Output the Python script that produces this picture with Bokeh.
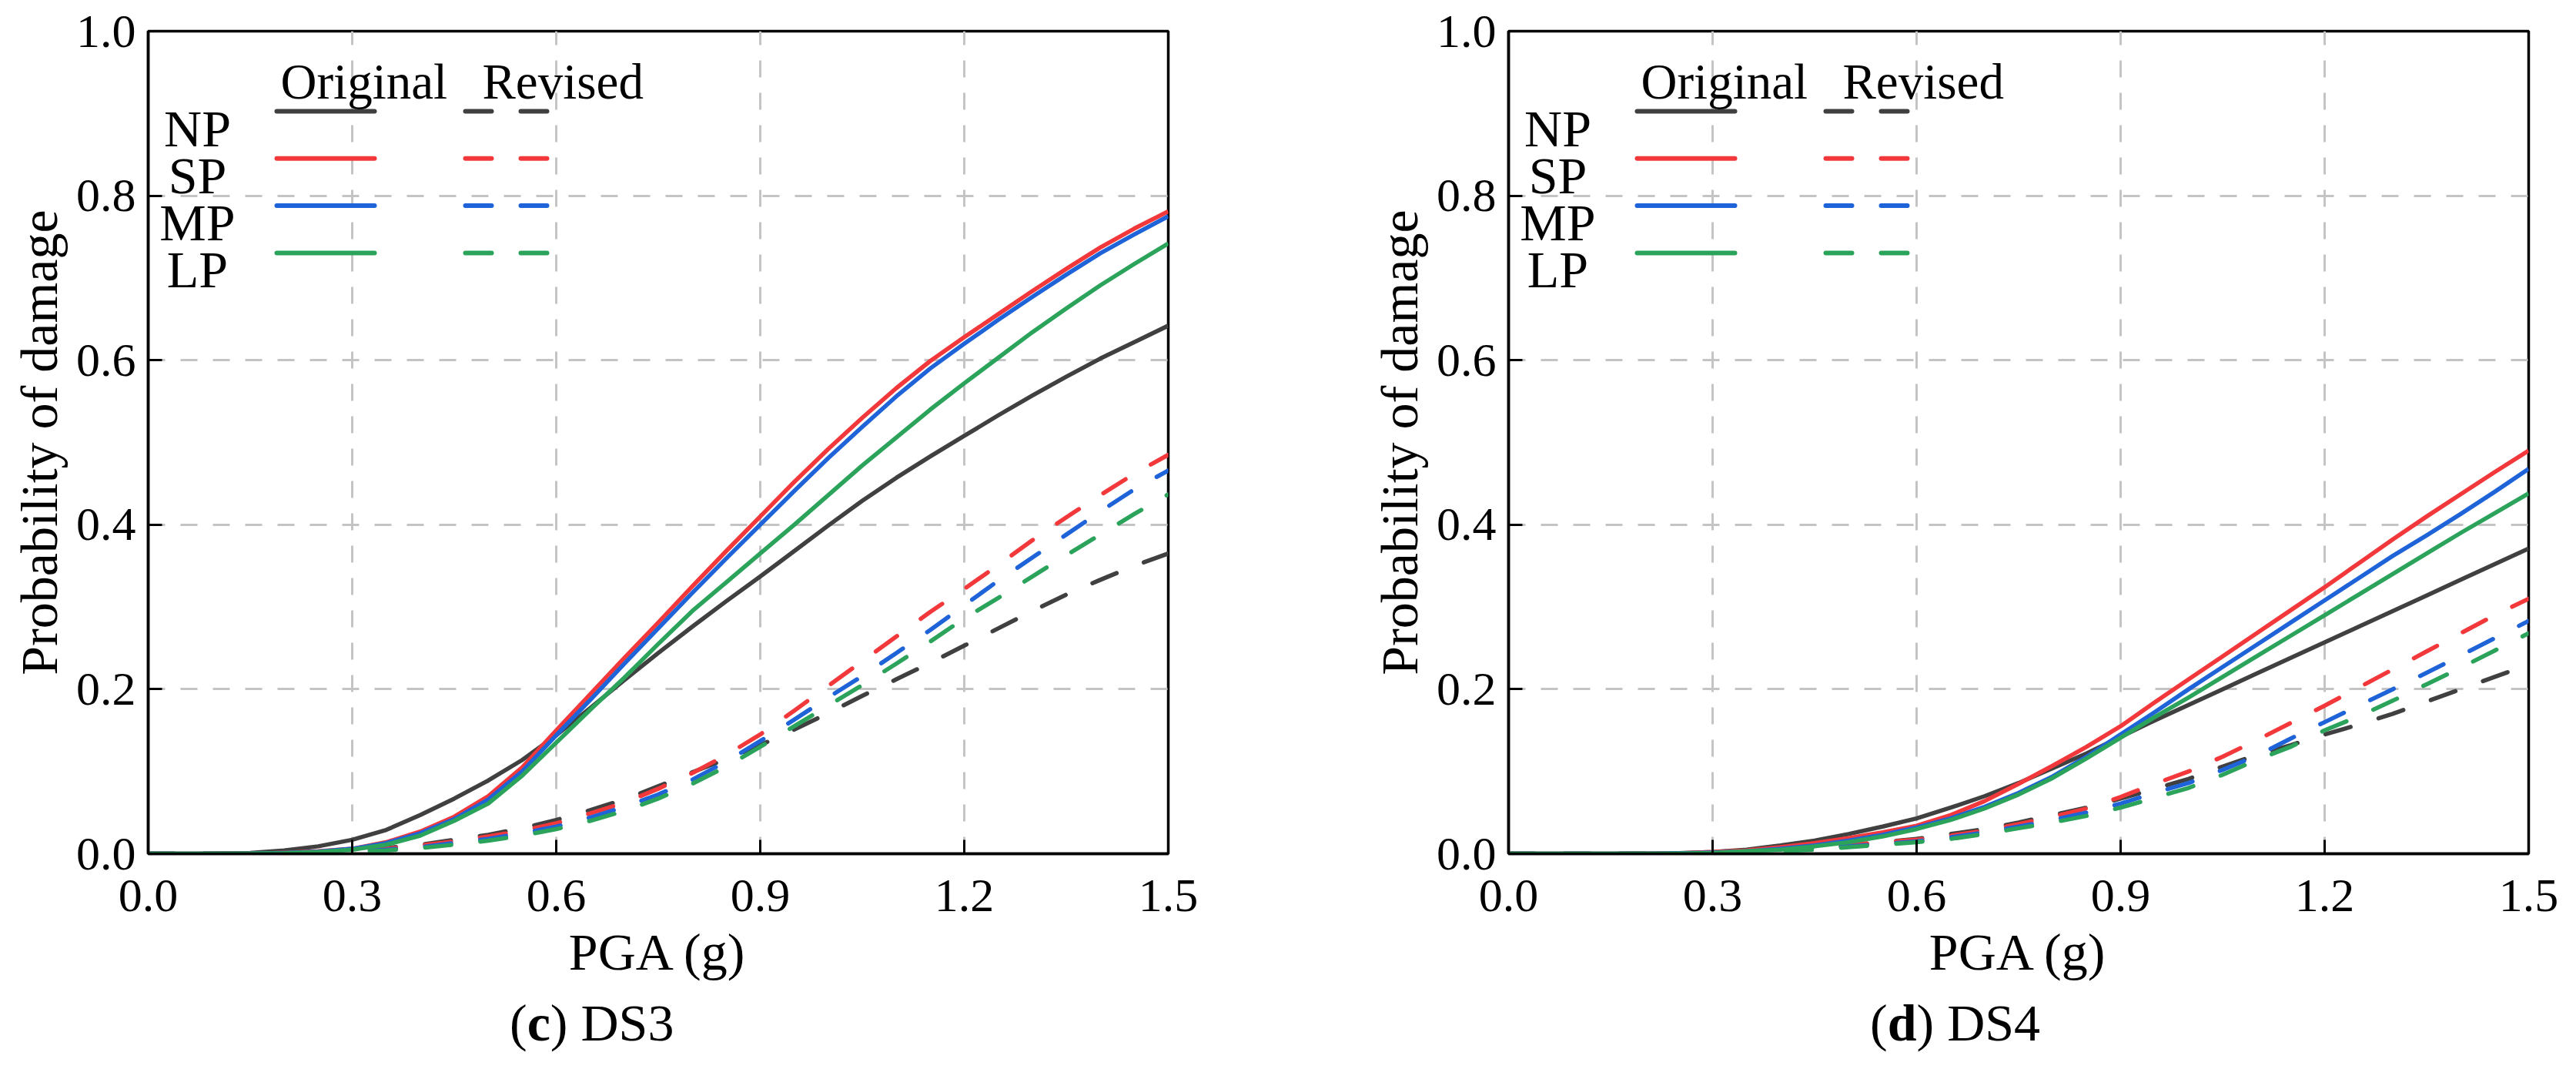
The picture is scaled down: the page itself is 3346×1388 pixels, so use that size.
from bokeh.plotting import figure
from bokeh.models import Label, FixedTicker, Range1d, Div
from bokeh.layouts import row, column
from bokeh.embed import file_html
from bokeh.resources import INLINE

# ---------------- data ----------------
pga = [0.00, 0.05, 0.10, 0.15, 0.20, 0.25, 0.30, 0.35, 0.40, 0.45, 0.50,
       0.55, 0.60, 0.65, 0.70, 0.75, 0.80, 0.85, 0.90, 0.95, 1.00,
       1.05, 1.10, 1.15, 1.20, 1.25, 1.30, 1.35, 1.40, 1.45, 1.50]

categories = ["NP", "SP", "MP", "LP"]
colors = ["#404040", "#f2383a", "#1f63d9", "#2ba35b"]

# DS3 - original
ds3_np_orig = [0, 0, 0.0002, 0.001, 0.004, 0.009, 0.017, 0.029, 0.047, 0.067, 0.089,
               0.114, 0.144, 0.177, 0.211, 0.244, 0.276, 0.307, 0.337, 0.368, 0.399,
               0.429, 0.457, 0.483, 0.508, 0.533, 0.557, 0.580, 0.602, 0.622, 0.642]
ds3_sp_orig = [0, 0, 0, 0.0003, 0.0012, 0.003, 0.006, 0.014, 0.027, 0.045, 0.070,
               0.105, 0.150, 0.194, 0.238, 0.281, 0.325, 0.368, 0.410, 0.452, 0.492,
               0.530, 0.566, 0.599, 0.628, 0.656, 0.684, 0.711, 0.737, 0.760, 0.781]
ds3_mp_orig = [0, 0, 0, 0.0002, 0.001, 0.0025, 0.006, 0.013, 0.025, 0.042, 0.066,
               0.100, 0.144, 0.187, 0.231, 0.274, 0.317, 0.359, 0.400, 0.441, 0.481,
               0.519, 0.556, 0.590, 0.620, 0.649, 0.677, 0.704, 0.730, 0.753, 0.775]
ds3_lp_orig = [0, 0, 0, 0.0002, 0.0006, 0.002, 0.005, 0.011, 0.022, 0.040, 0.061,
               0.095, 0.135, 0.175, 0.214, 0.255, 0.295, 0.330, 0.365, 0.400, 0.436,
               0.472, 0.506, 0.540, 0.572, 0.603, 0.634, 0.663, 0.691, 0.717, 0.742]
# DS3 - revised
ds3_np_rev = [0, 0, 0, 0.0002, 0.001, 0.002, 0.004, 0.007, 0.011, 0.017, 0.023,
              0.031, 0.041, 0.053, 0.066, 0.082, 0.099, 0.115, 0.132, 0.151, 0.171,
              0.192, 0.212, 0.232, 0.253, 0.274, 0.295, 0.315, 0.333, 0.350, 0.365]
ds3_sp_rev = [0, 0, 0, 0, 0.0005, 0.001, 0.003, 0.006, 0.010, 0.015, 0.021,
              0.028, 0.037, 0.049, 0.062, 0.079, 0.098, 0.120, 0.145, 0.174, 0.204,
              0.234, 0.264, 0.294, 0.322, 0.351, 0.381, 0.409, 0.436, 0.462, 0.485]
ds3_mp_rev = [0, 0, 0, 0, 0.0004, 0.001, 0.0025, 0.005, 0.008, 0.013, 0.018,
              0.025, 0.033, 0.044, 0.057, 0.072, 0.090, 0.112, 0.137, 0.163, 0.190,
              0.216, 0.244, 0.272, 0.302, 0.332, 0.360, 0.388, 0.416, 0.443, 0.466]
ds3_lp_rev = [0, 0, 0, 0, 0.0003, 0.001, 0.002, 0.004, 0.007, 0.011, 0.016,
              0.022, 0.030, 0.040, 0.052, 0.067, 0.085, 0.106, 0.130, 0.155, 0.180,
              0.205, 0.231, 0.258, 0.286, 0.311, 0.337, 0.363, 0.388, 0.413, 0.437]

# DS4 - original
ds4_np_orig = [0, 0, 0, 0, 0.0002, 0.0008, 0.002, 0.005, 0.010, 0.016, 0.024,
               0.033, 0.043, 0.056, 0.070, 0.086, 0.104, 0.122, 0.142, 0.162, 0.181,
               0.200, 0.219, 0.238, 0.257, 0.276, 0.295, 0.314, 0.333, 0.352, 0.371]
ds4_sp_orig = [0, 0, 0, 0, 0.0001, 0.0005, 0.002, 0.004, 0.008, 0.013, 0.019,
               0.026, 0.034, 0.047, 0.064, 0.085, 0.107, 0.130, 0.155, 0.184, 0.212,
               0.240, 0.268, 0.296, 0.324, 0.353, 0.382, 0.410, 0.437, 0.464, 0.490]
ds4_mp_orig = [0, 0, 0, 0, 0.0001, 0.0004, 0.0015, 0.003, 0.006, 0.010, 0.016,
               0.023, 0.032, 0.043, 0.057, 0.074, 0.094, 0.118, 0.145, 0.172, 0.200,
               0.227, 0.254, 0.281, 0.308, 0.335, 0.362, 0.387, 0.413, 0.440, 0.468]
ds4_lp_orig = [0, 0, 0, 0, 0.0001, 0.0003, 0.001, 0.003, 0.005, 0.009, 0.014,
               0.021, 0.030, 0.041, 0.055, 0.072, 0.092, 0.116, 0.141, 0.166, 0.190,
               0.215, 0.240, 0.265, 0.290, 0.315, 0.340, 0.365, 0.390, 0.414, 0.438]
# DS4 - revised
ds4_np_rev = [0, 0, 0, 0, 0, 0.0003, 0.001, 0.002, 0.004, 0.007, 0.010,
              0.014, 0.018, 0.024, 0.030, 0.038, 0.047, 0.056, 0.067, 0.079, 0.091,
              0.106, 0.120, 0.132, 0.145, 0.157, 0.170, 0.185, 0.200, 0.215, 0.230]
ds4_sp_rev = [0, 0, 0, 0, 0, 0.0003, 0.001, 0.002, 0.004, 0.007, 0.011,
              0.014, 0.017, 0.022, 0.028, 0.036, 0.045, 0.055, 0.069, 0.085, 0.100,
              0.118, 0.138, 0.159, 0.180, 0.202, 0.224, 0.246, 0.268, 0.290, 0.310]
ds4_mp_rev = [0, 0, 0, 0, 0, 0.0002, 0.0008, 0.002, 0.004, 0.006, 0.009,
              0.012, 0.015, 0.020, 0.026, 0.033, 0.041, 0.050, 0.061, 0.074, 0.086,
              0.102, 0.119, 0.140, 0.160, 0.180, 0.200, 0.220, 0.241, 0.262, 0.283]
ds4_lp_rev = [0, 0, 0, 0, 0, 0.0002, 0.0007, 0.0015, 0.003, 0.005, 0.008,
              0.011, 0.014, 0.018, 0.024, 0.031, 0.038, 0.046, 0.056, 0.068, 0.080,
              0.096, 0.114, 0.130, 0.150, 0.167, 0.186, 0.206, 0.226, 0.247, 0.268]

x_ticks = [0.0, 0.3, 0.6, 0.9, 1.2, 1.5]
x_tick_labels = ["0.0", "0.3", "0.6", "0.9", "1.2", "1.5"]
y_ticks = [0.0, 0.2, 0.4, 0.6, 0.8, 1.0]
y_tick_labels = ["0.0", "0.2", "0.4", "0.6", "0.8", "1.0"]

x_title = "PGA (g)"
y_title = "Probability of damage"
legend_headers = ["Original", "Revised"]
captions = [("c", "DS3"), ("d", "DS4")]

# ---------------- styling / layout ----------------
FONT = "Liberation Serif"
FRAME_W, FRAME_H = 1325, 1068
BORDER_TOP, BORDER_BOTTOM = 40, 186
X_MAX, Y_MAX = 1.5, 1.0
PX_X = X_MAX / FRAME_W     # data units per pixel
PX_Y = Y_MAX / FRAME_H
LINE_W = 5.5
DASH = "34 38"


def make_panel(orig, rev, border_left, border_right):
    p = figure(width=border_left + FRAME_W + border_right,
               height=BORDER_TOP + FRAME_H + BORDER_BOTTOM,
               x_range=Range1d(0, X_MAX), y_range=Range1d(0, Y_MAX),
               min_border_left=border_left, min_border_right=border_right,
               min_border_top=BORDER_TOP, min_border_bottom=BORDER_BOTTOM,
               output_backend="svg", toolbar_location=None,
               background_fill_color="white", border_fill_color="white")
    p.outline_line_color = "black"
    p.outline_line_width = 3.5
    p.outline_line_alpha = 1.0

    for ax in (p.xaxis[0], p.yaxis[0]):
        ax.axis_line_color = "black"
        ax.axis_line_width = 3.5
        ax.major_tick_in = 18
        ax.major_tick_out = 0
        ax.major_tick_line_width = 3
        ax.major_tick_line_color = "black"
        ax.minor_tick_line_color = None
        ax.major_label_text_font = FONT
        ax.major_label_text_font_size = "62px"
        ax.major_label_text_color = "black"
        ax.axis_label_text_font = FONT
        ax.axis_label_text_font_size = "68px"
        ax.axis_label_text_font_style = "normal"
        ax.axis_label_text_color = "black"

    p.xaxis.ticker = FixedTicker(ticks=x_ticks)
    p.xaxis.major_label_overrides = dict(zip(x_ticks, x_tick_labels))
    p.yaxis.ticker = FixedTicker(ticks=y_ticks)
    p.yaxis.major_label_overrides = dict(zip(y_ticks, y_tick_labels))
    p.xaxis.axis_label = x_title
    p.yaxis.axis_label = y_title
    p.xaxis.major_label_standoff = 34
    p.xaxis.axis_label_standoff = 12
    p.yaxis.major_label_standoff = 16
    p.yaxis.axis_label_standoff = 7

    p.grid.grid_line_color = "#c4c4c4"
    p.grid.grid_line_width = 3
    p.grid.grid_line_dash = "22 20"

    # curves
    for col, yr in zip(colors, rev):
        p.line(pga, yr, line_color=col, line_width=LINE_W, line_dash=DASH,
               line_cap="round", line_join="round")
    for col, yo in zip(colors, orig):
        p.line(pga, yo, line_color=col, line_width=LINE_W, line_join="round")

    # custom legend (positions in pixels from frame's left / bottom)
    header_y = (FRAME_H - 65) * PX_Y
    for txt, xpx in zip(legend_headers, (172, 434)):
        p.add_layout(Label(x=xpx * PX_X, y=header_y, text=txt,
                           text_font=FONT, text_font_size="65px",
                           text_align="left", text_baseline="alphabetic",
                           text_color="black"))
    for i, (cat, col) in enumerate(zip(categories, colors)):
        ly_px = 104 + i * 61.3          # from frame top
        ly = (FRAME_H - ly_px) * PX_Y
        p.add_layout(Label(x=64 * PX_X, y=(FRAME_H - ly_px - 22) * PX_Y, text=cat,
                           text_font=FONT, text_font_size="68px",
                           text_align="center", text_baseline="alphabetic",
                           text_color="black"))
        p.line([167 * PX_X, 294 * PX_X], [ly, ly], line_color=col,
               line_width=6, line_cap="round")
        p.line([412 * PX_X, 520 * PX_X], [ly, ly], line_color=col,
               line_width=6, line_cap="round", line_dash=DASH)
    return p


def make_caption(letter, rest, left_margin):
    return Div(text="(<b>%s</b>) %s" % (letter, rest), width=320, height=90,
               margin=(0, 0, 0, left_margin),
               styles={"font-family": FONT, "font-size": "68px",
                       "line-height": "1", "color": "black",
                       "white-space": "nowrap"})


p1 = make_panel([ds3_np_orig, ds3_sp_orig, ds3_mp_orig, ds3_lp_orig],
                [ds3_np_rev, ds3_sp_rev, ds3_mp_rev, ds3_lp_rev], 192, 225)
p2 = make_panel([ds4_np_orig, ds4_sp_orig, ds4_mp_orig, ds4_lp_orig],
                [ds4_np_rev, ds4_sp_rev, ds4_mp_rev, ds4_lp_rev], 217, 40)

c1 = make_caption(captions[0][0], captions[0][1], 192 + 470)
c2 = make_caption(captions[1][0], captions[1][1], 217 + 470)

layout = row(column(p1, c1), column(p2, c2))
open("out.html", "w").write(file_html(layout, INLINE))
